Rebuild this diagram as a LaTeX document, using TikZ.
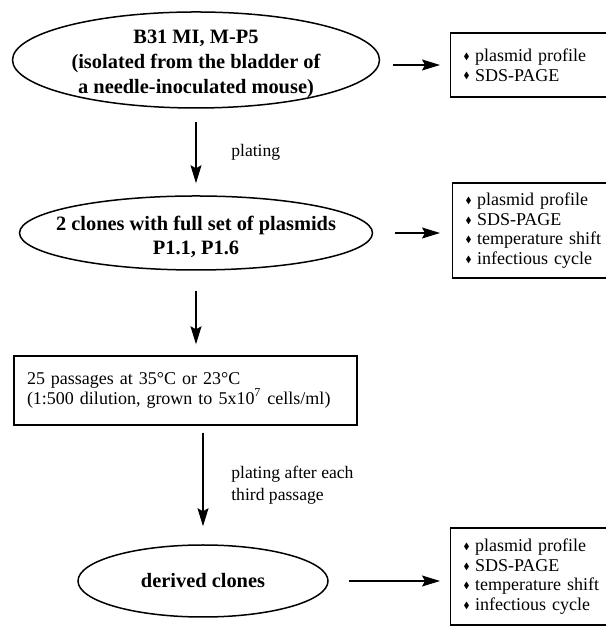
\documentclass[tikz,border=0pt]{standalone}
\usepackage{fontspec}
\setmainfont{Liberation Serif}
\usepackage{amssymb}
\usepackage{graphicx}
\usepackage{tikz}
\usetikzlibrary{shapes.geometric, arrows.meta, positioning, calc}
\newcommand{\bul}{\raisebox{0.25ex}{\scalebox{0.5}{$\blacklozenge$}}\hspace{0.3em}}

\begin{document}
\begin{tikzpicture}[x=0.5pt, y=0.5pt,
    oval/.style={ellipse, draw, line width=0.75pt, inner sep=0pt},
    ovaltext/.style={align=center, inner sep=0pt, font=\fontsize{10.2}{12.3}\selectfont\bfseries},
    checks/.style={rectangle, draw, line width=0.7pt, anchor=west, text width=72pt, inner xsep=6.5pt, align=left, font=\fontsize{9}{9.8}\selectfont},
    flow/.style={line width=0.65pt, -{Stealth[length=9pt, width=5.5pt, inset=1.5pt]}},
    note/.style={align=left, font=\fontsize{8.8}{10.8}\selectfont}]
                \useasboundingbox (0,0) rectangle (605,635);

                % Isolate (top ellipse)
                \node[oval, minimum width=183.5pt, minimum height=48pt] (iso) at (196,575) {};
                \node[ovaltext, yshift=-2pt] (iso-txt) at (iso) {B31 MI, M-P5\\(isolated from the bladder of\\a needle-inoculated mouse)};
                \node[checks, minimum height=32pt] (prof1) at (450,570) {\bul plasmid profile\\\bul SDS-PAGE};
                \draw[flow, shorten <=6.5pt, shorten >=5pt] (prof1.west -| iso.east) -- (prof1.west);

                % Clones with full plasmid set
                \node[oval, minimum width=176.5pt, minimum height=37pt] (clones) at (196,402) {};
                \node[ovaltext, yshift=-2pt] (clones-txt) at (clones) {2 clones with full set of plasmids\\P1.1, P1.6};
                \draw[flow, shorten <=6.5pt, shorten >=6pt] (iso.south) -- (clones.north)
                    node[note, midway, right=14pt] {plating};
                \node[checks, minimum height=47.5pt] (prof2) at (452,404.5) {\bul plasmid profile\\\bul SDS-PAGE\\\bul temperature shift\\\bul infectious cycle};
                \draw[flow, shorten <=11pt, shorten >=6pt] (clones.east) -- (clones.east -| prof2.west);

                % Passages
                \node[rectangle, draw, line width=0.7pt, text width=158.5pt, inner xsep=6.5pt, minimum height=34.5pt, align=left,
                      font=\fontsize{9}{10}\selectfont] (pass) at (185.5,244.5) {25 passages at 35°C or 23°C\\(1:500 dilution, grown to 5x10\textsuperscript{7} cells/ml)};
                \draw[flow, shorten <=10pt, shorten >=5.5pt] (clones.south) -- (clones.south |- pass.north);

                % Derived clones
                \node[oval, minimum width=125pt, minimum height=36pt] (derived) at (203,54) {};
                \node[ovaltext] (derived-txt) at (derived) {derived clones};
                \draw[flow, shorten <=3.5pt, shorten >=9pt] (pass.south -| derived.north) -- (derived.north)
                    node[note, midway, right=10.5pt] {plating after each\\third passage};
                \node[checks, minimum height=48.5pt] (prof4) at (450,58.5) {\bul plasmid profile\\\bul SDS-PAGE\\\bul temperature shift\\\bul infectious cycle};
                \draw[flow, shorten <=10pt, shorten >=5pt] (derived.east) -- (derived.east -| prof4.west);
            \end{tikzpicture}
\end{document}
